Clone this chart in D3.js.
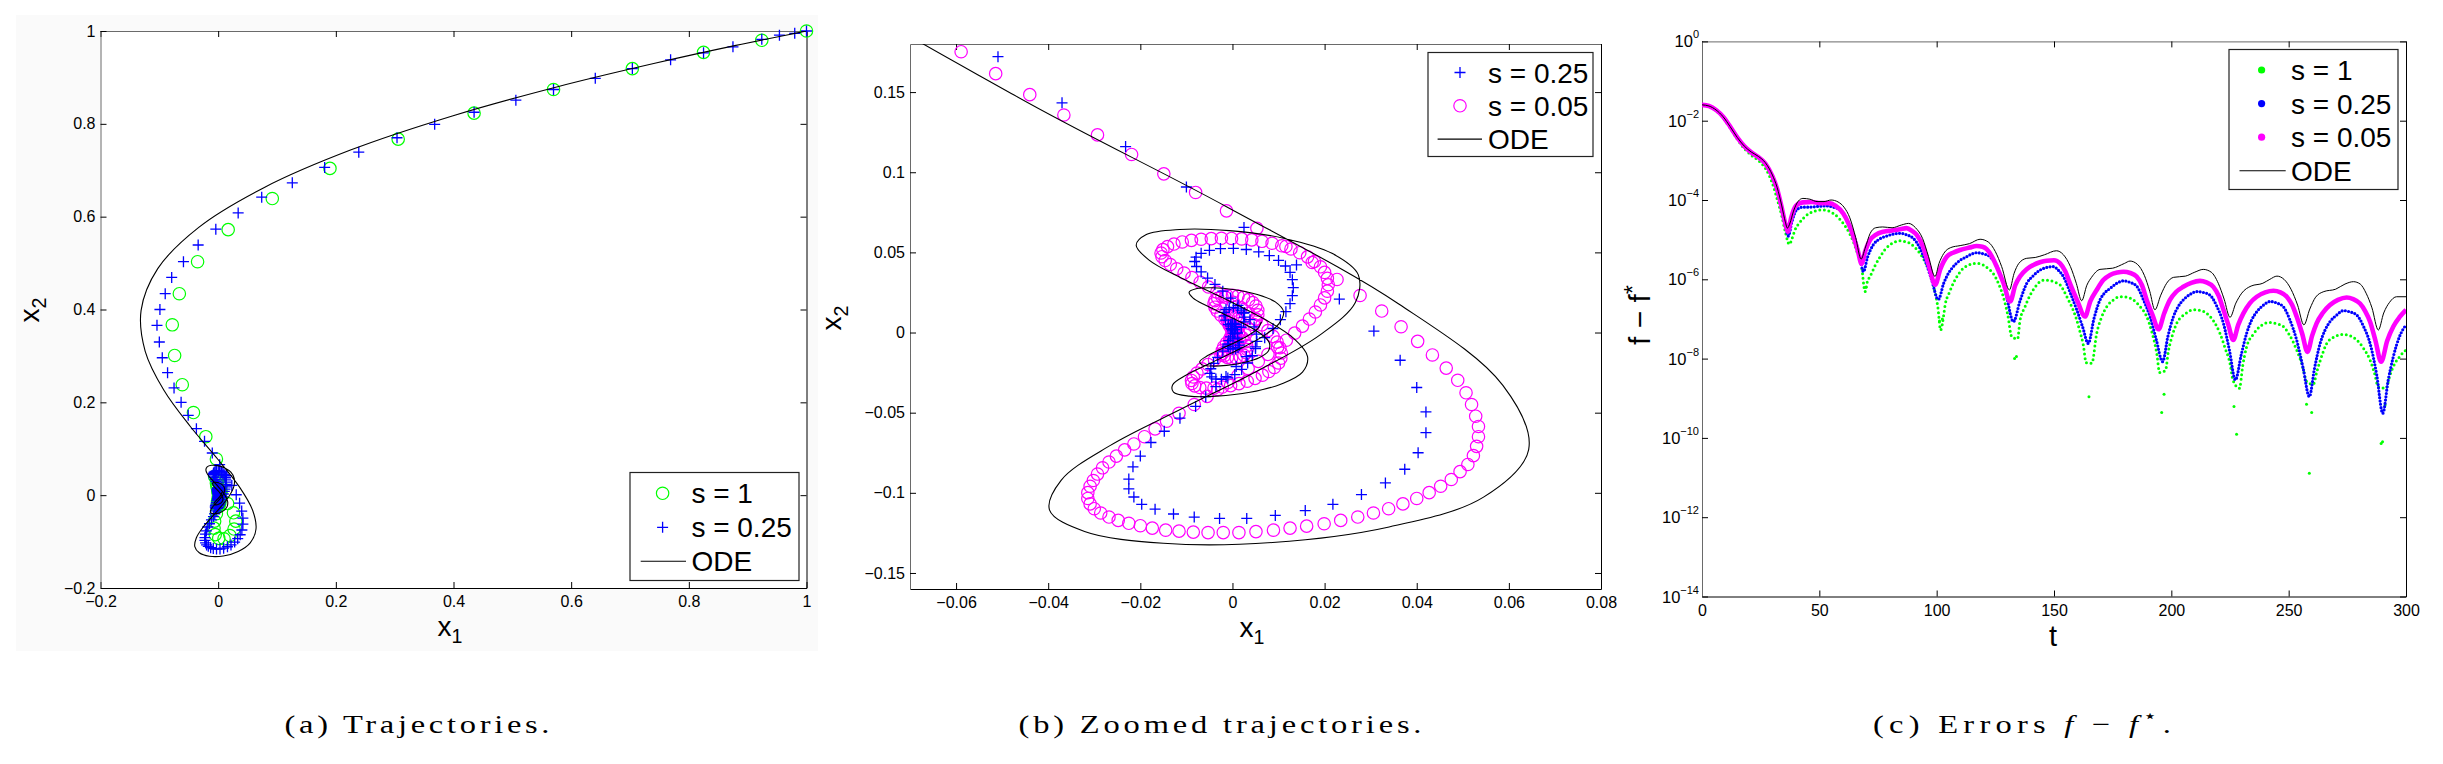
<!DOCTYPE html>
<html>
<head>
<meta charset="utf-8">
<script src="https://cdn.jsdelivr.net/npm/d3@7"></script>
<style>
  body { margin: 0; background: #fff; }
  text { font-family: "Liberation Sans", Arial, sans-serif; }
  .cap { font-family: "Liberation Serif", "DejaVu Serif", serif; }
</style>
</head>
<body>
<svg id="fig" width="2443" height="764"></svg>
<script>
// ---------- data ----------

// ODE solution, sampled every 2.5 time units (x1, x2)
const odeX1 = [1.0,0.969,0.880,0.744,0.577,0.398,0.226,0.0785,-0.033,-0.1027,-0.131,-0.124,-0.0922,-0.0473,-0.0013,0.0361,0.0587,0.0643,0.0545,0.034,0.0087,-0.015,-0.0321,-0.0397,-0.0372,-0.0265,-0.0108,0.0056,0.0191,0.0267,0.0273,0.0216,0.0113,-0.0007,-0.0115,-0.0187,-0.0209,-0.0181,-0.0111,-0.002,0.0067,0.0133,0.0163,0.0152,0.0106,0.0038,-0.0034,-0.0094,-0.0128,-0.013,-0.010,-0.0049,0.0012,0.0066,0.0101,0.0111,0.0093,0.0054,0.0005,-0.0044,-0.0079,-0.0094,-0.0086,-0.0057,-0.0017,0.0026,0.0061,0.008,0.0078,0.0058,0.0025,-0.0013,-0.0046,-0.0067,-0.0071,-0.0057,-0.0031,0.0002,0.0033,0.0055,0.0063];
const odeX2 = [1.0,0.992,0.969,0.931,0.880,0.817,0.744,0.663,0.577,0.488,0.398,0.310,0.226,0.148,0.0785,0.0178,-0.033,-0.073,-0.1027,-0.1213,-0.131,-0.1315,-0.1241,-0.1108,-0.0922,-0.0704,-0.0473,-0.0237,-0.0013,0.0189,0.0361,0.0494,0.0587,0.0636,0.0643,0.0611,0.0545,0.0452,0.034,0.0215,0.0087,-0.0037,-0.015,-0.0247,-0.0321,-0.0373,-0.0397,-0.0397,-0.0372,-0.0327,-0.0265,-0.0193,-0.0108,-0.0024,0.0056,0.013,0.0191,0.0237,0.0267,0.0279,0.0273,0.0252,0.0216,0.0168,0.0113,0.0053,-0.0007,-0.0064,-0.0115,-0.0157,-0.0187,-0.0205,-0.0209,-0.02,-0.0181,-0.0149,-0.0111,-0.0067,-0.002,0.0024,0.0067];

// s = 1 iterates (green circles, panel a)
const s1Pts = [[1.000,1.000],[0.924,0.980],[0.825,0.954],[0.704,0.919],[0.570,0.874],[0.435,0.823],[0.306,0.767],[0.190,0.704],[0.092,0.639],[0.017,0.572],[-0.035,0.503],[-0.066,0.434],[-0.078,0.367],[-0.074,0.301],[-0.061,0.238],[-0.042,0.178],[-0.021,0.126],[-0.003,0.078],[-0.006,0.040],[0.004,0.006],[0.016,-0.018],[0.026,-0.038],[0.030,-0.056],[0.027,-0.073],[0.020,-0.087],[0.010,-0.094],[0.001,-0.093],[-0.005,-0.085],[-0.007,-0.071],[-0.006,-0.056],[-0.003,-0.040],[0.000,-0.023],[0.003,-0.007],[0.005,0.008],[0.005,0.020],[0.003,0.028],[0.000,0.032],[-0.002,0.031],[-0.003,0.026],[-0.002,0.018],[0.000,0.009],[0.002,0.000],[0.003,-0.008],[0.003,-0.015],[0.002,-0.020],[0.001,-0.023],[0.000,-0.022],[-0.001,-0.019],[-0.001,-0.013],[0.000,-0.007],[0.001,0.000],[0.001,0.005],[0.001,0.009],[0.000,0.010],[0.000,0.008],[0.000,0.004]];

// s = 0.25 iterates (blue plus, panels a and b)
const s025Pts = [[1.000,1.000],[0.980,0.995],[0.954,0.991],[0.924,0.982],[0.875,0.966],[0.825,0.953],[0.769,0.938],[0.704,0.919],[0.641,0.898],[0.570,0.874],[0.506,0.851],[0.435,0.825],[0.368,0.799],[0.304,0.770],[0.239,0.739],[0.181,0.706],[0.126,0.673],[0.074,0.642],[0.034,0.608],[-0.004,0.573],[-0.034,0.539],[-0.059,0.503],[-0.079,0.469],[-0.090,0.434],[-0.099,0.400],[-0.104,0.366],[-0.100,0.330],[-0.095,0.296],[-0.086,0.264],[-0.075,0.231],[-0.063,0.200],
  [-0.0509,0.1721],[-0.037,0.1433],[-0.0232,0.116],[-0.01,0.0908],[0.0025,0.0656],[0.0139,0.0422],[0.0232,0.0209],[0.0307,0.0009],[0.0364,-0.0173],[0.04,-0.0343],[0.042,-0.0495],[0.042,-0.0625],[0.0403,-0.075],[0.0374,-0.0853],[0.0332,-0.0938],[0.028,-0.1011],[0.0218,-0.1072],[0.0158,-0.1111],[0.0093,-0.1141],[0.0031,-0.116],[-0.0028,-0.116],[-0.0083,-0.1151],[-0.0128,-0.1132],[-0.0168,-0.1102],[-0.0197,-0.1072],[-0.0214,-0.1026],[-0.0225,-0.0975],[-0.0225,-0.0914],[-0.0216,-0.0838],[-0.02,-0.0771],[-0.0177,-0.0686],[-0.0148,-0.0616],[-0.0114,-0.0534],[-0.008,-0.0461],
  [-0.0058,-0.0400],[-0.0036,-0.0338],[-0.0014,-0.0275],[0.0008,-0.0212],[0.0030,-0.0150],[0.0050,-0.0090],[0.0070,-0.0032],[0.0088,0.0025],[0.0104,0.0080],[0.0116,0.0130],[0.0125,0.0180],[0.0130,0.0230],[0.0132,0.0280],[0.0130,0.0330],[0.0125,0.0375],[0.0115,0.0415],[0.0100,0.0450],[0.0080,0.0480],[0.0057,0.0503],[0.0030,0.0518],[0.0002,0.0525],[-0.0026,0.0524],[-0.0050,0.0513],[-0.0068,0.0494],[-0.0079,0.0470],[-0.0082,0.0443],[-0.0078,0.0412],[-0.0068,0.0378],[-0.0054,0.0340],[-0.0038,0.0300],[-0.0021,0.0258],[-0.0004,0.0215],[0.0012,0.0170],[0.0026,0.0125],[0.0038,0.0080],[0.0047,0.0035],[0.0052,-0.0010],[0.0053,-0.0055],[0.0050,-0.0100],[0.0043,-0.0145],[0.0033,-0.0190],[0.0020,-0.0230],[0.0005,-0.0262],[-0.0010,-0.0283],[-0.0024,-0.0292],[-0.0036,-0.0290],[-0.0045,-0.0277],[-0.0049,-0.0255],[-0.0047,-0.0226],[-0.0041,-0.0192],[-0.0032,-0.0155],[-0.0021,-0.0116],[-0.0010,-0.0077],[0.0001,-0.0040],[0.0011,-0.0003],[0.0019,0.0033],[0.0024,0.0066],[0.0026,0.0096],[0.0024,0.0121],[0.0019,0.0140],[0.0011,0.0152],[0.0002,0.0157],[-0.0007,0.0154],[-0.0014,0.0143],[-0.0018,0.0126],[-0.0018,0.0104],[-0.0015,0.0078],[-0.0009,0.0050],[-0.0002,0.0021],[0.0005,-0.0008],[0.0011,-0.0035],[0.0014,-0.0059],[0.0015,-0.0079],[0.0012,-0.0094],[0.0007,-0.0102],[0.0001,-0.0104],[-0.0005,-0.0099],[-0.0009,-0.0088],[-0.0010,-0.0071],[-0.0008,-0.0050],[-0.0004,-0.0027],[0.0001,-0.0004],[0.0005,0.0018],[0.0007,0.0036],[0.0007,0.0049],[0.0004,0.0056],[0.0000,0.0057],[-0.0003,0.0051],[-0.0004,0.0040],[-0.0003,0.0026],[0.0000,0.0010]];

// s = 0.05 iterates (magenta circles, panel b)
const s005Pts = [[-0.0589,0.1752],[-0.0514,0.1615],[-0.044,0.1484],[-0.0366,0.1357],[-0.0293,0.1233],[-0.0219,0.1111],[-0.0149,0.099],[-0.008,0.0874],[-0.0013,0.0759],[0.0053,0.065],[0.0116,0.0537],[0.0173,0.0437],[0.0227,0.0331],[0.0277,0.0231],[0.0324,0.0134],[0.0366,0.0036],[0.0402,-0.0055],[0.0434,-0.014],[0.0464,-0.0222],[0.0489,-0.0298],[0.0507,-0.0376],[0.0519,-0.0449],[0.0528,-0.0522],[0.0534,-0.0586],[0.0534,-0.065],[0.053,-0.071],[0.0523,-0.0768],[0.0511,-0.0823],[0.0494,-0.0868],[0.0475,-0.0917],[0.0452,-0.0959],[0.0427,-0.0999],[0.04,-0.1035],[0.037,-0.1069],[0.0339,-0.1099],[0.0306,-0.1126],[0.0272,-0.1151],[0.0235,-0.1172],[0.0199,-0.1193],[0.0161,-0.1208],[0.0125,-0.122],[0.0089,-0.1233],[0.0051,-0.1242],[0.0014,-0.1248],[-0.002,-0.1248],[-0.0053,-0.1248],[-0.0085,-0.1245],[-0.0116,-0.1239],[-0.0145,-0.1233],[-0.0174,-0.122],[-0.02,-0.1205],[-0.0225,-0.119],[-0.0248,-0.1172],[-0.0268,-0.1151],[-0.0286,-0.1126],[-0.03,-0.1099],[-0.0309,-0.1069],[-0.0314,-0.1035],[-0.0314,-0.0999],[-0.0309,-0.0959],[-0.0302,-0.0923],[-0.0293,-0.0883],[-0.0282,-0.0844],[-0.0268,-0.0808],[-0.0252,-0.0771],[-0.0234,-0.0732],[-0.0214,-0.0695],[-0.0191,-0.065],[-0.0168,-0.0601],[-0.0143,-0.0553],[-0.0116,-0.0504],[-0.0083,-0.0449],[-0.0055,-0.0398],
  [-0.0032,-0.0355],[-0.0010,-0.0312],[0.0012,-0.0268],[0.0034,-0.0224],[0.0056,-0.0180],[0.0077,-0.0136],[0.0098,-0.0092],[0.0117,-0.0048],[0.0135,-0.0004],[0.0152,0.0040],[0.0167,0.0084],[0.0180,0.0128],[0.0191,0.0172],[0.0200,0.0216],[0.0206,0.0258],[0.0208,0.0298],[0.0206,0.0338],[0.0200,0.0375],[0.0191,0.0410],[0.0178,0.0443],[0.0163,0.0472],[0.0146,0.0498],[0.0127,0.0521],[0.0107,0.0541],[0.0086,0.0557],[0.0064,0.0569],[0.0042,0.0578],[0.0020,0.0584],[-0.0002,0.0587],[-0.0024,0.0588],[-0.0046,0.0586],[-0.0068,0.0582],[-0.0089,0.0575],[-0.0109,0.0565],[-0.0127,0.0552],[-0.0141,0.0536],[-0.0151,0.0517],[-0.0155,0.0496],[-0.0153,0.0473],[-0.0146,0.0449],[-0.0135,0.0424],[-0.0121,0.0398],[-0.0105,0.0371],[-0.0088,0.0343],[-0.0070,0.0314],[-0.0052,0.0284],[-0.0034,0.0253],[-0.0016,0.0221],[0.0002,0.0188],[0.0019,0.0154],[0.0035,0.0119],[0.0050,0.0084],[0.0064,0.0048],[0.0077,0.0012],[0.0088,-0.0024],[0.0097,-0.0060],[0.0103,-0.0095],[0.0106,-0.0128],[0.0105,-0.0160],[0.0100,-0.0190],[0.0091,-0.0218],[0.0079,-0.0243],[0.0065,-0.0266],[0.0049,-0.0286],[0.0032,-0.0304],[0.0014,-0.0319],[-0.0004,-0.0331],[-0.0022,-0.0340],[-0.0040,-0.0346],[-0.0057,-0.0347],[-0.0071,-0.0343],[-0.0082,-0.0333],[-0.0088,-0.0318],[-0.0089,-0.0299],[-0.0085,-0.0277],[-0.0077,-0.0253],[-0.0066,-0.0227],[-0.0053,-0.0199],[-0.0039,-0.0170],[-0.0025,-0.0140],[-0.0011,-0.0109],[0.0003,-0.0078],[0.0016,-0.0046],[0.0028,-0.0014],[0.0038,0.0018],[0.0046,0.0050],[0.0052,0.0081],[0.0055,0.0111],[0.0055,0.0139],[0.0051,0.0165],[0.0044,0.0187],[0.0035,0.0205],[0.0024,0.0219],[0.0012,0.0228],[0.0000,0.0232],[-0.0012,0.0231],[-0.0023,0.0225],[-0.0032,0.0214],[-0.0038,0.0199],[-0.0040,0.0180],[-0.0038,0.0158],[-0.0033,0.0134],[-0.0025,0.0108],[-0.0016,0.0081],[-0.0006,0.0053],[0.0004,0.0025],[0.0013,-0.0003],[0.0021,-0.0031],[0.0027,-0.0058],[0.0031,-0.0083],[0.0032,-0.0106],[0.0030,-0.0126],[0.0025,-0.0142],[0.0017,-0.0153],[0.0008,-0.0159],[-0.0002,-0.0160],[-0.0011,-0.0155],[-0.0018,-0.0145],[-0.0022,-0.0130],[-0.0022,-0.0111],[-0.0019,-0.0089],[-0.0013,-0.0065],[-0.0006,-0.0040],[0.0001,-0.0015],[0.0008,0.0010],[0.0013,0.0034],[0.0016,0.0056],[0.0016,0.0075],[0.0013,0.0090],[0.0008,0.0100],[0.0002,0.0104],[-0.0004,0.0102],[-0.0009,0.0094],[-0.0011,0.0081],[-0.0010,0.0064],[-0.0007,0.0045],[-0.0003,0.0025],[0.0001,0.0005],[0.0005,-0.0014],[0.0007,-0.0031],[0.0007,-0.0045],[0.0005,-0.0055],[0.0001,-0.0060],[-0.0003,-0.0058],[-0.0005,-0.0050],[-0.0005,-0.0037],[-0.0003,-0.0021],[0.0000,-0.0005],[0.0002,0.0010],[0.0003,0.0023],[0.0002,0.0032],[0.0000,0.0036]];

// errors f - f*: [t, log10(f - f*)]
const errOde = [[0,-1.60],[3,-1.63],[6,-1.73],[9,-1.90],[12,-2.15],[15,-2.42],[18,-2.64],[21,-2.79],[24,-2.90],[27,-3.06],[30,-3.37],[32,-3.68],[34,-4.15],[35.5,-4.55],[36.4,-4.71],[37.5,-4.58],[39,-4.28],[41,-4.03],[43,-3.96],[46,-3.98],[49,-4.04],[52,-4.04],[55,-4.00],[58,-4.05],[60.5,-4.18],[63,-4.45],[65.5,-4.95],[67.8,-5.49],[69.5,-5.22],[71.6,-4.85],[74,-4.70],[77,-4.68],[81,-4.70],[85,-4.63],[88,-4.59],[91,-4.70],[94,-4.97],[96.5,-5.42],[99.3,-5.93],[101,-5.60],[103,-5.35],[106,-5.20],[110,-5.15],[114,-5.10],[118.5,-4.99],[122,-5.06],[125,-5.30],[127.7,-5.68],[131,-6.27],[133,-5.85],[135,-5.60],[138.4,-5.47],[142,-5.45],[146,-5.38],[151,-5.28],[154,-5.38],[157,-5.68],[159.5,-6.10],[161.8,-6.54],[164,-6.15],[166,-5.95],[169.6,-5.75],[175,-5.72],[180,-5.60],[182.4,-5.54],[185.5,-5.62],[188.5,-5.90],[190.8,-6.30],[193,-6.77],[195.5,-6.40],[198,-6.10],[201,-5.95],[206,-5.92],[210,-5.82],[213.6,-5.75],[217,-5.82],[220,-6.10],[222.5,-6.50],[225,-6.96],[227.5,-6.60],[230,-6.35],[234,-6.17],[239,-6.10],[242,-6.00],[245,-5.92],[248,-6.00],[251,-6.25],[253.8,-6.65],[256.5,-7.15],[259,-6.75],[261.5,-6.45],[265,-6.31],[270,-6.25],[274,-6.12],[277.6,-6.06],[280.5,-6.12],[283,-6.35],[285.5,-6.72],[288.2,-7.28],[290.5,-6.85],[293,-6.58],[296,-6.44],[300,-6.44]];
const errS005 = [[0,-1.60],[3,-1.63],[6,-1.73],[9,-1.90],[12,-2.15],[15,-2.42],[18,-2.64],[21,-2.80],[24,-2.92],[27,-3.08],[30,-3.40],[32,-3.72],[34,-4.20],[35.5,-4.60],[36.6,-4.80],[38,-4.45],[40,-4.15],[43,-4.06],[47,-4.05],[50.3,-4.08],[54,-4.08],[57,-4.15],[60.2,-4.34],[62.5,-4.60],[64.5,-4.92],[66.5,-5.30],[68,-5.61],[69.5,-5.30],[71.6,-5.01],[74,-4.88],[77.3,-4.80],[81,-4.77],[84.4,-4.74],[87.2,-4.71],[89.5,-4.78],[91.5,-4.88],[94,-5.15],[96.5,-5.62],[99.4,-6.14],[101.5,-5.75],[104.3,-5.43],[107,-5.33],[110,-5.26],[114,-5.20],[117,-5.16],[119.5,-5.18],[121.3,-5.24],[123.5,-5.42],[125.6,-5.68],[128.5,-6.10],[131.3,-6.56],[133.5,-6.15],[135.5,-5.93],[138.5,-5.74],[141.2,-5.64],[144,-5.57],[146.9,-5.53],[150,-5.52],[152.6,-5.60],[154.8,-5.80],[156.8,-6.10],[160,-6.55],[163.2,-6.94],[165.5,-6.55],[168.2,-6.27],[171,-6.02],[173.9,-5.89],[177,-5.83],[179.6,-5.81],[182.5,-5.84],[185.2,-5.93],[187.5,-6.15],[189.5,-6.52],[192,-6.90],[194.5,-7.26],[197,-6.85],[199.4,-6.52],[202,-6.32],[205.1,-6.19],[208.5,-6.09],[212.2,-6.04],[215,-6.08],[217.9,-6.19],[220.2,-6.42],[222.2,-6.77],[224.3,-7.15],[226.4,-7.53],[228.5,-7.15],[230.7,-6.86],[233.5,-6.60],[236.4,-6.44],[240,-6.33],[243.5,-6.29],[246.5,-6.33],[249.2,-6.44],[251.5,-6.65],[253.4,-6.94],[255.8,-7.38],[258,-7.83],[260,-7.42],[261.9,-7.11],[264.5,-6.85],[267.6,-6.65],[271,-6.52],[274.7,-6.46],[277.5,-6.50],[280.4,-6.61],[282.6,-6.80],[284.7,-7.07],[287,-7.55],[289.4,-8.08],[292,-7.55],[294.6,-7.19],[297.3,-6.95],[300,-6.77]];
const errS025 = [[0,-1.60],[3,-1.63],[6,-1.73],[9,-1.90],[12,-2.15],[15,-2.42],[18,-2.65],[21,-2.81],[24,-2.93],[27,-3.10],[30,-3.43],[32,-3.76],[34,-4.25],[35.6,-4.68],[36.8,-4.91],[38.3,-4.55],[40.3,-4.25],[43,-4.18],[46,-4.18],[49.5,-4.16],[53.1,-4.15],[56,-4.18],[58.8,-4.25],[61,-4.42],[63.1,-4.67],[65.5,-5.05],[67.3,-5.45],[68.8,-5.81],[70.5,-5.45],[73,-5.13],[75.8,-4.98],[78.7,-4.91],[81.5,-4.86],[84.4,-4.84],[87.3,-4.88],[90.1,-4.97],[92.5,-5.17],[95,-5.51],[97.8,-6.00],[100.7,-6.51],[103,-6.10],[105,-5.85],[107.1,-5.68],[110,-5.52],[112.8,-5.43],[115,-5.36],[117,-5.33],[120,-5.36],[122.7,-5.43],[125,-5.60],[127,-5.85],[129.5,-6.35],[132.7,-7.07],[135.5,-6.55],[138.4,-6.10],[141,-5.92],[144,-5.77],[147,-5.70],[149.7,-5.68],[152,-5.78],[154,-5.93],[157,-6.35],[159.7,-6.77],[162.2,-7.20],[164.6,-7.62],[167,-7.00],[169.6,-6.52],[171.8,-6.33],[173.9,-6.23],[176.8,-6.10],[179.6,-6.04],[182.5,-6.08],[185.2,-6.17],[188,-6.50],[190.9,-6.94],[193.5,-7.50],[196.3,-8.08],[198.5,-7.45],[200.9,-6.94],[203,-6.68],[205.1,-6.52],[208,-6.38],[210.8,-6.31],[213.5,-6.33],[216.5,-6.40],[219.4,-6.68],[222.2,-7.11],[224.8,-7.80],[227.3,-8.54],[229.8,-7.90],[232.1,-7.36],[234.2,-7.03],[236.4,-6.82],[239.3,-6.65],[242.1,-6.56],[245,-6.60],[247.7,-6.69],[250.5,-7.02],[253.4,-7.53],[256.2,-8.25],[258.8,-8.96],[261,-8.25],[263.4,-7.62],[265.5,-7.28],[267.6,-7.07],[270.5,-6.90],[273.3,-6.79],[276,-6.82],[279,-6.90],[282,-7.20],[284.7,-7.62],[287.5,-8.40],[290.1,-9.38],[292.4,-8.55],[294.6,-7.95],[297.2,-7.45],[300,-7.15]];
const errS1 = [[0,-1.60],[3,-1.64],[6,-1.75],[9,-1.93],[12,-2.18],[15,-2.46],[18,-2.70],[21,-2.87],[24,-3.00],[27,-3.20],[30,-3.58],[32,-3.97],[34,-4.40],[35.5,-4.80],[37.2,-5.12],[38.5,-4.95],[39.6,-4.76],[41.5,-4.58],[43.2,-4.46],[47.4,-4.29],[51.7,-4.25],[56,-4.34],[58.2,-4.45],[60.2,-4.59],[62.5,-4.80],[64.5,-5.05],[66.3,-5.35],[68,-5.68],[69.5,-6.31],[70.5,-6.05],[71.6,-5.93],[73.8,-5.65],[75.9,-5.43],[78,-5.25],[80.1,-5.13],[82.2,-5.06],[84.4,-5.03],[86.5,-5.05],[88.6,-5.09],[90.8,-5.20],[92.9,-5.35],[95,-5.55],[97.2,-5.85],[99,-6.25],[100.5,-6.70],[101.7,-7.28],[103,-6.90],[103.6,-6.65],[105.3,-6.35],[107.1,-6.10],[109.2,-5.88],[111.4,-5.72],[113.5,-5.65],[115.6,-5.60],[117.8,-5.60],[119.9,-5.64],[122,-5.73],[124.1,-5.85],[126.3,-6.10],[128.4,-6.44],[130.3,-6.90],[132,-7.45],[134.5,-7.50],[135.5,-7.04],[137.6,-6.70],[139.8,-6.40],[141.9,-6.20],[144,-6.06],[146.2,-6.02],[148.3,-6.03],[150.5,-6.08],[152.6,-6.14],[154,-6.27],[156,-6.50],[158,-6.75],[159.7,-7.03],[161.2,-7.35],[162.5,-7.66],[163.7,-8.10],[166.1,-8.12],[168.2,-7.36],[170.3,-6.95],[172.5,-6.69],[175.3,-6.52],[178.1,-6.44],[181,-6.45],[183.8,-6.52],[186.6,-6.68],[189.5,-6.94],[191.8,-7.35],[193.8,-7.87],[195,-8.35],[197.5,-8.30],[198.7,-7.83],[200.5,-7.40],[202.3,-7.11],[205.8,-6.88],[209.4,-6.77],[212.2,-6.78],[215.1,-6.86],[218,-7.05],[220.7,-7.36],[223,-7.75],[225,-8.12],[226.3,-8.55],[229,-8.75],[230.5,-8.15],[232.1,-7.70],[235,-7.38],[237.8,-7.19],[240,-7.11],[242.1,-7.09],[245,-7.12],[247.7,-7.19],[250.5,-7.42],[253.4,-7.78],[255.7,-8.15],[257.7,-8.58],[260.5,-8.65],[262,-8.33],[264,-7.95],[266.2,-7.62],[269.5,-7.45],[273.3,-7.39],[276,-7.42],[279,-7.53],[282,-7.75],[284.7,-8.04],[286.5,-8.35],[288.2,-8.71],[291.5,-8.75],[293,-8.45],[294.6,-8.20],[297.3,-7.95],[300,-7.78]];
// isolated deep dots of s = 1 near the minima
const errS1Deep = [[69.8,-6.20],[101.2,-7.05],[102.4,-7.00],[133.2,-8.00],[134.0,-7.95],[164.9,-8.96],[195.9,-9.36],[196.9,-8.90],[226.7,-9.21],[227.8,-9.91],[257.6,-9.15],[258.8,-10.89],[259.8,-9.36],[289.4,-10.14],[290.0,-10.10],[291.1,-9.17]];

// ticks and labels
const trajTicks = [-0.2, 0, 0.2, 0.4, 0.6, 0.8, 1];
const trajLabels = ["\u22120.2", "0", "0.2", "0.4", "0.6", "0.8", "1"];
const zoomXTicks = [-0.06, -0.04, -0.02, 0, 0.02, 0.04, 0.06, 0.08];
const zoomXLabels = ["\u22120.06", "\u22120.04", "\u22120.02", "0", "0.02", "0.04", "0.06", "0.08"];
const zoomYTicks = [-0.15, -0.1, -0.05, 0, 0.05, 0.1, 0.15];
const zoomYLabels = ["\u22120.15", "\u22120.1", "\u22120.05", "0", "0.05", "0.1", "0.15"];
const timeTicks = [0, 50, 100, 150, 200, 250, 300];
const errExponents = [0, -2, -4, -6, -8, -10, -12, -14];

// ---------- drawing ----------
const svg = d3.select("#fig");
const GREEN = "#00ff00", BLUE = "#0000ff", MAG = "#ff00ff";

// faint figure background behind panel (a)
svg.append("rect").attr("x", 16).attr("y", 15).attr("width", 802).attr("height", 636).attr("fill", "#fafafa");

const xA = d3.scaleLinear([-0.2, 1], [100.5, 806.5]);
const yA = d3.scaleLinear([-0.2, 1], [588, 31]);
const xB = d3.scaleLinear([-0.07, 0.08], [910, 1601]);
const yB = d3.scaleLinear([-0.16, 0.18], [589, 44]);
const xC = d3.scaleLinear([0, 300], [1702, 2406]);
const yC = d3.scaleLog([1e-14, 1], [596.5, 41.4]);

function frame(x, y, xt, xl, yt, yl) {
  const [l, r] = x.range(), [b, t] = y.range();
  svg.append("rect").attr("x", l).attr("y", t).attr("width", r - l).attr("height", b - t).attr("fill", "#fff");
  const style = g => {
    g.attr("font-family", null).attr("font-size", 16).attr("fill", "#000");
    g.selectAll(".tick line").attr("stroke", "#000");
  };
  svg.append("g").attr("transform", `translate(0,${b})`)
    .call(d3.axisBottom(x).tickValues(xt).tickFormat((d, i) => xl ? xl[i] : "").tickSizeInner(-6).tickSizeOuter(0).tickPadding(8))
    .call(style).call(g => g.select(".domain").attr("stroke", "#000"));
  svg.append("g").attr("transform", `translate(0,${t})`)
    .call(d3.axisTop(x).tickValues(xt).tickFormat("").tickSizeInner(-6).tickSizeOuter(0))
    .call(style).call(g => g.select(".domain").attr("stroke", "#6a6a6a"));
  svg.append("g").attr("transform", `translate(${l},0)`)
    .call(d3.axisLeft(y).tickValues(yt).tickFormat((d, i) => yl ? yl[i] : "").tickSizeInner(-6).tickSizeOuter(0).tickPadding(5))
    .call(style).call(g => g.select(".domain").attr("stroke", "#6a6a6a"));
  svg.append("g").attr("transform", `translate(${r},0)`)
    .call(d3.axisRight(y).tickValues(yt).tickFormat("").tickSizeInner(-6).tickSizeOuter(0))
    .call(style).call(g => g.select(".domain").attr("stroke", "#000"));
}

function clipFor(id, x, y) {
  const [l, r] = x.range(), [b, t] = y.range();
  svg.append("clipPath").attr("id", id).append("rect").attr("x", l).attr("y", t).attr("width", r - l).attr("height", b - t);
  return `url(#${id})`;
}

function circles(pts, x, y, color) {
  const [x0, x1] = x.domain(), [y0, y1] = y.domain();
  svg.append("g").selectAll("circle")
    .data(pts.filter(p => p[0] >= x0 && p[0] <= x1 && p[1] >= y0 && p[1] <= y1))
    .join("circle").attr("cx", d => x(d[0])).attr("cy", d => y(d[1])).attr("r", 6.2)
    .attr("fill", "none").attr("stroke", color).attr("stroke-width", 1.2);
}
function pluses(pts, x, y, color) {
  const [x0, x1] = x.domain(), [y0, y1] = y.domain();
  svg.append("g").selectAll("path")
    .data(pts.filter(p => p[0] >= x0 && p[0] <= x1 && p[1] >= y0 && p[1] <= y1))
    .join("path").attr("transform", d => `translate(${x(d[0])},${y(d[1])})`)
    .attr("d", "M-5.5,0H5.5M0,-5.5V5.5").attr("stroke", color).attr("stroke-width", 1.3);
}
function odeLine(x, y, clip) {
  const line = d3.line().x(i => x(odeX1[i])).y(i => y(odeX2[i])).curve(d3.curveCatmullRom.alpha(0.5));
  svg.append("path").attr("d", line(d3.range(odeX1.length))).attr("fill", "none")
    .attr("stroke", "#000").attr("stroke-width", 1.1).attr("clip-path", clip);
}

function legend(box, entries) {
  svg.append("rect").attr("x", box.x).attr("y", box.y).attr("width", box.w).attr("height", box.h)
    .attr("fill", "#fff").attr("stroke", "#222").attr("stroke-width", 1.2);
  entries.forEach((e, i) => {
    const cy = box.y + box.first + i * box.step;
    const g = svg.append("g");
    if (e.kind === "circle") g.append("circle").attr("cx", box.mx).attr("cy", cy).attr("r", 6.2).attr("fill", "none").attr("stroke", e.color).attr("stroke-width", 1.2);
    if (e.kind === "plus") g.append("path").attr("transform", `translate(${box.mx},${cy})`).attr("d", "M-5.5,0H5.5M0,-5.5V5.5").attr("stroke", e.color).attr("stroke-width", 1.3);
    if (e.kind === "dot") g.append("circle").attr("cx", box.mx).attr("cy", cy).attr("r", 3.6).attr("fill", e.color);
    if (e.kind === "line") g.append("line").attr("x1", box.lx0).attr("x2", box.lx1).attr("y1", cy).attr("y2", cy).attr("stroke", "#000").attr("stroke-width", 1.1);
    g.append("text").attr("x", box.tx).attr("y", cy + 10).attr("font-size", 28).text(e.label);
  });
}

function axisLabel(x, y, rotate, main, sub, size) {
  const t = svg.append("text").attr("font-size", size).attr("text-anchor", "middle")
    .attr("transform", `translate(${x},${y})` + (rotate ? " rotate(-90)" : ""));
  t.append("tspan").text(main);
  if (sub) t.append("tspan").attr("font-size", size * 0.7).attr("dy", "0.35em").text(sub);
}

// ----- panel (a)
frame(xA, yA, trajTicks, trajLabels, trajTicks, trajLabels);
circles(s1Pts, xA, yA, GREEN);
pluses(s025Pts, xA, yA, BLUE);
odeLine(xA, yA, clipFor("clipA", xA, yA));
legend({x: 630, y: 472.5, w: 169, h: 108, first: 20.8, step: 34, mx: 662.6, tx: 691.4, lx0: 640.7, lx1: 686},
  [{kind: "circle", color: GREEN, label: "s = 1"}, {kind: "plus", color: BLUE, label: "s = 0.25"}, {kind: "line", label: "ODE"}]);
axisLabel(450, 636, false, "x", "1", 28);
axisLabel(39, 310, true, "x", "2", 28);

// ----- panel (b)
frame(xB, yB, zoomXTicks, zoomXLabels, zoomYTicks, zoomYLabels);
circles(s005Pts, xB, yB, MAG);
pluses(s025Pts, xB, yB, BLUE);
odeLine(xB, yB, clipFor("clipB", xB, yB));
legend({x: 1428, y: 52.5, w: 165, h: 104, first: 20, step: 33.3, mx: 1460, tx: 1488, lx0: 1437.6, lx1: 1482},
  [{kind: "plus", color: BLUE, label: "s = 0.25"}, {kind: "circle", color: MAG, label: "s = 0.05"}, {kind: "line", label: "ODE"}]);
axisLabel(1252, 637, false, "x", "1", 28);
axisLabel(841, 318, true, "x", "2", 28);

// ----- panel (c)
frame(xC, yC, timeTicks, timeTicks.map(String), errExponents.map(e => Math.pow(10, e)), null);
svg.append("g").selectAll("text").data(errExponents).join("text")
  .attr("x", xC.range()[0] - 3).attr("y", e => yC(Math.pow(10, e)) + 6).attr("text-anchor", "end").attr("font-size", 16.5)
  .each(function (e) {
    const t = d3.select(this);
    t.append("tspan").text("10");
    t.append("tspan").attr("font-size", 11).attr("dy", -9).text(e === 0 ? "0" : "\u2212" + Math.abs(e));
  });
const clipC = clipFor("clipC", xC, yC);
const errLine = d3.line().x(d => xC(d[0])).y(d => yC(Math.pow(10, d[1]))).curve(d3.curveMonotoneX);
svg.append("path").attr("d", errLine(errS1)).attr("fill", "none").attr("stroke", GREEN).attr("stroke-width", 3)
  .attr("stroke-linecap", "round").attr("stroke-dasharray", "0 4.6").attr("clip-path", clipC);
svg.append("g").selectAll("circle").data(errS1Deep).join("circle")
  .attr("cx", d => xC(d[0])).attr("cy", d => yC(Math.pow(10, d[1]))).attr("r", 1.5).attr("fill", GREEN);
svg.append("path").attr("d", errLine(errS025)).attr("fill", "none").attr("stroke", BLUE).attr("stroke-width", 3.2)
  .attr("stroke-linecap", "round").attr("stroke-dasharray", "0 3.3").attr("clip-path", clipC);
svg.append("path").attr("d", errLine(errS005)).attr("fill", "none").attr("stroke", MAG).attr("stroke-width", 4.6)
  .attr("stroke-linejoin", "round").attr("clip-path", clipC);
svg.append("path").attr("d", errLine(errOde)).attr("fill", "none").attr("stroke", "#000").attr("stroke-width", 1)
  .attr("clip-path", clipC);
legend({x: 2229, y: 49.5, w: 169, h: 140, first: 20.5, step: 33.6, mx: 2261.6, tx: 2291, lx0: 2239.5, lx1: 2285.7},
  [{kind: "dot", color: GREEN, label: "s = 1"}, {kind: "dot", color: BLUE, label: "s = 0.25"},
   {kind: "dot", color: MAG, label: "s = 0.05"}, {kind: "line", label: "ODE"}]);
axisLabel(2053, 646, false, "t", null, 29);
svg.append("text").attr("font-size", 30).attr("text-anchor", "middle")
  .attr("transform", "translate(1650,315) rotate(-90)")
  .call(t => { t.append("tspan").text("f \u2212 f"); t.append("tspan").attr("dy", -9).attr("font-size", 23).text("*"); });

// ----- captions (wide serif, stretched horizontally like the LaTeX captions)
function caption(cx, width, build) {
  const sx = 1.25;
  const t = svg.append("text").attr("class", "cap")
    .attr("transform", `translate(${cx},733) scale(${sx},1)`).attr("text-anchor", "middle")
    .attr("font-size", 26).attr("textLength", width / sx).attr("lengthAdjust", "spacing");
  build(t);
}
caption(417, 265, t => t.text("(a) Trajectories."));
caption(1220, 403, t => t.text("(b) Zoomed trajectories."));
caption(2022, 298, t => {
  t.append("tspan").text("(c) Errors ");
  t.append("tspan").attr("font-style", "italic").text("f");
  t.append("tspan").text(" \u2212 ");
  t.append("tspan").attr("font-style", "italic").text("f");
  t.append("tspan").attr("dy", -11).attr("font-size", 18).text("\u22c6");
  t.append("tspan").attr("dy", 11).text(".");
});
</script>
</body>
</html>
